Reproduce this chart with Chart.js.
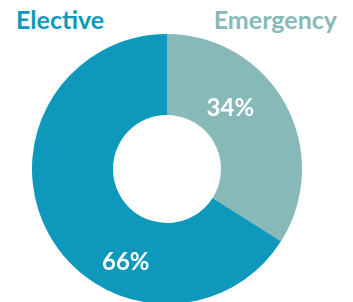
<!DOCTYPE html>
<html><head><meta charset="utf-8">
<script src="https://cdn.jsdelivr.net/npm/chart.js@4/dist/chart.umd.min.js"></script>
<style>
html,body{margin:0;padding:0;width:353px;height:302px;overflow:hidden;background:#fff;font-family:Lato,"Open Sans",sans-serif;}
.t{position:absolute;font-weight:700;font-size:25px;line-height:1;top:7px;}
#wrap{position:absolute;left:32px;top:34px;width:270px;height:270px;}
</style></head><body>
<div class="t" id="l1" style="left:16px;color:#0e98bb">Elective</div>
<div class="t" id="l2" style="right:16px;color:#87b9b8">Emergency</div>
<div id="wrap"><canvas id="c"></canvas></div>
<script>
const categories = ["Emergency", "Elective"];
const values = [34, 66];
const valueLabels = ["34%", "66%"];
const colors = ["#87b9b8", "#0e98bb"];
const labelAngleFrac = [0.376, 0.343];
const labelRadiusFrac = [0.42, 0.59];

const pctPlugin = {
  id: 'pct',
  afterDatasetsDraw(chart) {
    const ctx = chart.ctx;
    const meta = chart.getDatasetMeta(0);
    ctx.save();
    ctx.fillStyle = '#fff';
    ctx.font = '700 24px Lato, "Open Sans", sans-serif';
    ctx.textAlign = 'center';
    ctx.textBaseline = 'middle';
    meta.data.forEach((arc, i) => {
      const p = arc.getProps(['x','y','startAngle','endAngle','innerRadius','outerRadius']);
      const a = p.startAngle + (p.endAngle - p.startAngle) * labelAngleFrac[i];
      const r = p.innerRadius + (p.outerRadius - p.innerRadius) * labelRadiusFrac[i];
      ctx.fillText(valueLabels[i], p.x + r * Math.cos(a), p.y + r * Math.sin(a));
    });
    ctx.restore();
  }
};

new Chart(document.getElementById('c'), {
  type: 'doughnut',
  data: { labels: categories, datasets: [{ data: values, backgroundColor: colors, borderWidth: 0 }] },
  options: {
    responsive: true, maintainAspectRatio: false, animation: false,
    cutout: '40%',
    layout: { padding: 0 },
    plugins: { legend: { display: false }, tooltip: { enabled: false } }
  },
  plugins: [pctPlugin]
});
</script>
</body></html>
